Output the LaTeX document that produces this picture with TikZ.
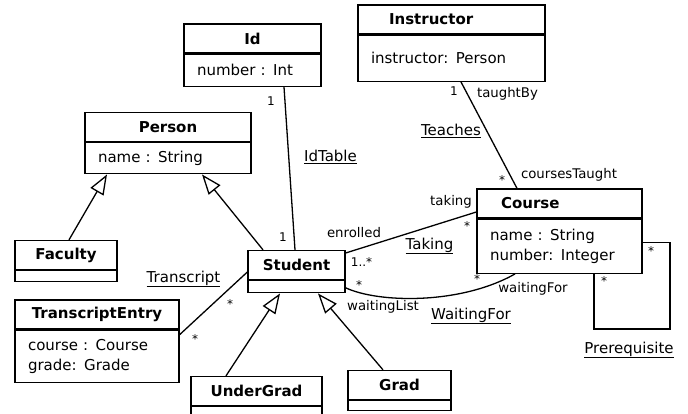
\documentclass[tikz,border=0pt]{standalone}
\usepackage{fontspec}
\setmainfont{DejaVu Sans}
\usetikzlibrary{arrows.meta}

\tikzset{
	cls/.style={draw, minimum width=#1, minimum height=29pt, inner sep=0pt, font=\fontsize{15}{20.5}\selectfont\bfseries},
	attr/.style={draw, anchor=north, align=left, text width=#1, inner xsep=13pt, inner ysep=0pt, font=\fontsize{15}{20.5}\selectfont},
	role/.style={inner sep=0pt, font=\fontsize{13.3}{16}\selectfont},
	mult/.style={inner sep=0pt, font=\fontsize{12}{14}\selectfont},
	assoc/.style={inner sep=0pt, font=\fontsize{15}{18}\selectfont},
	gen/.style={arrows={-{Triangle[open,length=20pt,width=15pt]}}}
}

\begin{document}
\begin{tikzpicture}[x=1pt, y=-1pt, line width=1.3pt]
	\useasboundingbox (0,0) rectangle (688,414);

	\node [cls=137pt] (id) at (252.5,38.5) {Id};
	\node [attr=111pt, minimum height=32pt] (id-a) at (id.south) {number : Int};
	\node [cls=187pt, text width=125pt, align=left, inner xsep=31pt] (instructor) at (451.5,19.5) {Instructor};
	\node [attr=161pt, minimum height=46pt] (instructor-a) at (instructor.south) {instructor: Person};
	\node [cls=166pt] (person) at (168,127) {Person};
	\node [attr=140pt, minimum height=31pt] (person-a) at (person.south) {name : String};
	\node [cls=102pt] (faculty) at (66,255) {Faculty};
	\node [attr=76pt, minimum height=11pt] (faculty-a) at (faculty.south) {};
	\node [cls=97pt] (student) at (296.5,265) {Student};
	\node [attr=71pt, minimum height=12pt] (student-a) at (student.south) {};
	\node [cls=164pt] (entry) at (97,314.5) {TranscriptEntry};
	\node [attr=138pt, minimum height=52pt] (entry-a) at (entry.south) {course : Course\\grade: Grade};
	\node [cls=131pt] (undergrad) at (256.5,391) {UnderGrad};
	\node [attr=105pt, minimum height=11pt] (undergrad-a) at (undergrad.south) {};
	\node [cls=103pt] (grad) at (399.5,385) {Grad};
	\node [attr=77pt, minimum height=10pt] (grad-a) at (grad.south) {};
	\node [cls=165pt, text width=117pt, align=left, inner xsep=24pt] (course) at (559.5,203.5) {Course};
	\node [attr=139pt, minimum height=54pt] (course-a) at (course.south) {name : String\\number: Integer};

	\draw [gen] ([xshift=3pt]faculty.north) -- ([xshift=-61pt]person-a.south);
	\draw [gen] ([xshift=-33.5pt]student.north) -- ([xshift=34pt]person-a.south);
	\draw [gen] ([xshift=-30.5pt]undergrad.north) -- ([xshift=-16.5pt]student-a.south);
	\draw [gen] ([xshift=-16.5pt]grad.north) -- ([xshift=21.5pt]student-a.south);

	\draw ([xshift=31.5pt]id-a.south) -- ([xshift=-1.5pt]student.north);
	\node [mult] (id-m) at (271,101) {1};
	\node [mult] (student-m1) at (283,237) {1};
	\node [assoc] (idtable) at (330.5,157) {\underline{IdTable}};

	\draw ([xshift=9.5pt]instructor-a.south) -- ([xshift=-42.5pt]course.north);
	\node [mult] (instructor-m) at (454,91) {1};
	\node [role] (taughtby) at (507.5,94) {taughtBy};
	\node [assoc] (teaches) at (451,131) {\underline{Teaches}};
	\node [mult] (course-m1) at (502,180) {*};
	\node [role] (coursestaught) at (569,175) {coursesTaught};

	\draw ([yshift=12pt]student.east) -- ([yshift=-8.5pt]course.west);
	\node [role] (takingrole) at (451,202) {taking};
	\node [role] (enrolled) at (354,233) {enrolled};
	\node [mult] (course-m2) at (467,226) {*};
	\node [assoc] (taking) at (429.5,246) {\underline{Taking}};
	\node [mult] (student-m2) at (361.5,262) {1..*};

	\draw ([yshift=-1pt]student-a.east) .. controls (378,303) and (460,305) .. ([xshift=-44.5pt]course-a.south);
	\node [mult] (student-m3) at (359,285) {*};
	\node [mult] (course-m3) at (477,279) {*};
	\node [role] (waitingforrole) at (533,289) {waitingFor};
	\node [role] (waitinglist) at (383,307) {waitingList};
	\node [assoc] (waitingfor) at (471,316) {\underline{WaitingFor}};

	\draw ([yshift=-7pt]student.west) -- ([yshift=-5pt]entry-a.north east);
	\node [assoc] (transcript) at (183.5,279) {\underline{Transcript}};
	\node [mult] (student-m4) at (230,304) {*};
	\node [mult] (entry-m) at (195,339) {*};

	\coordinate (loop) at (670,329);
	\draw ([yshift=4pt]course-a.east) -| (loop) -| ([xshift=34.5pt]course-a.south);
	\node [mult] (course-m4) at (651,251) {*};
	\node [mult] (course-m5) at (604,281) {*};
	\node [assoc] (prerequisite) at (629,350) {\underline{Prerequisite}};
\end{tikzpicture}
\end{document}
